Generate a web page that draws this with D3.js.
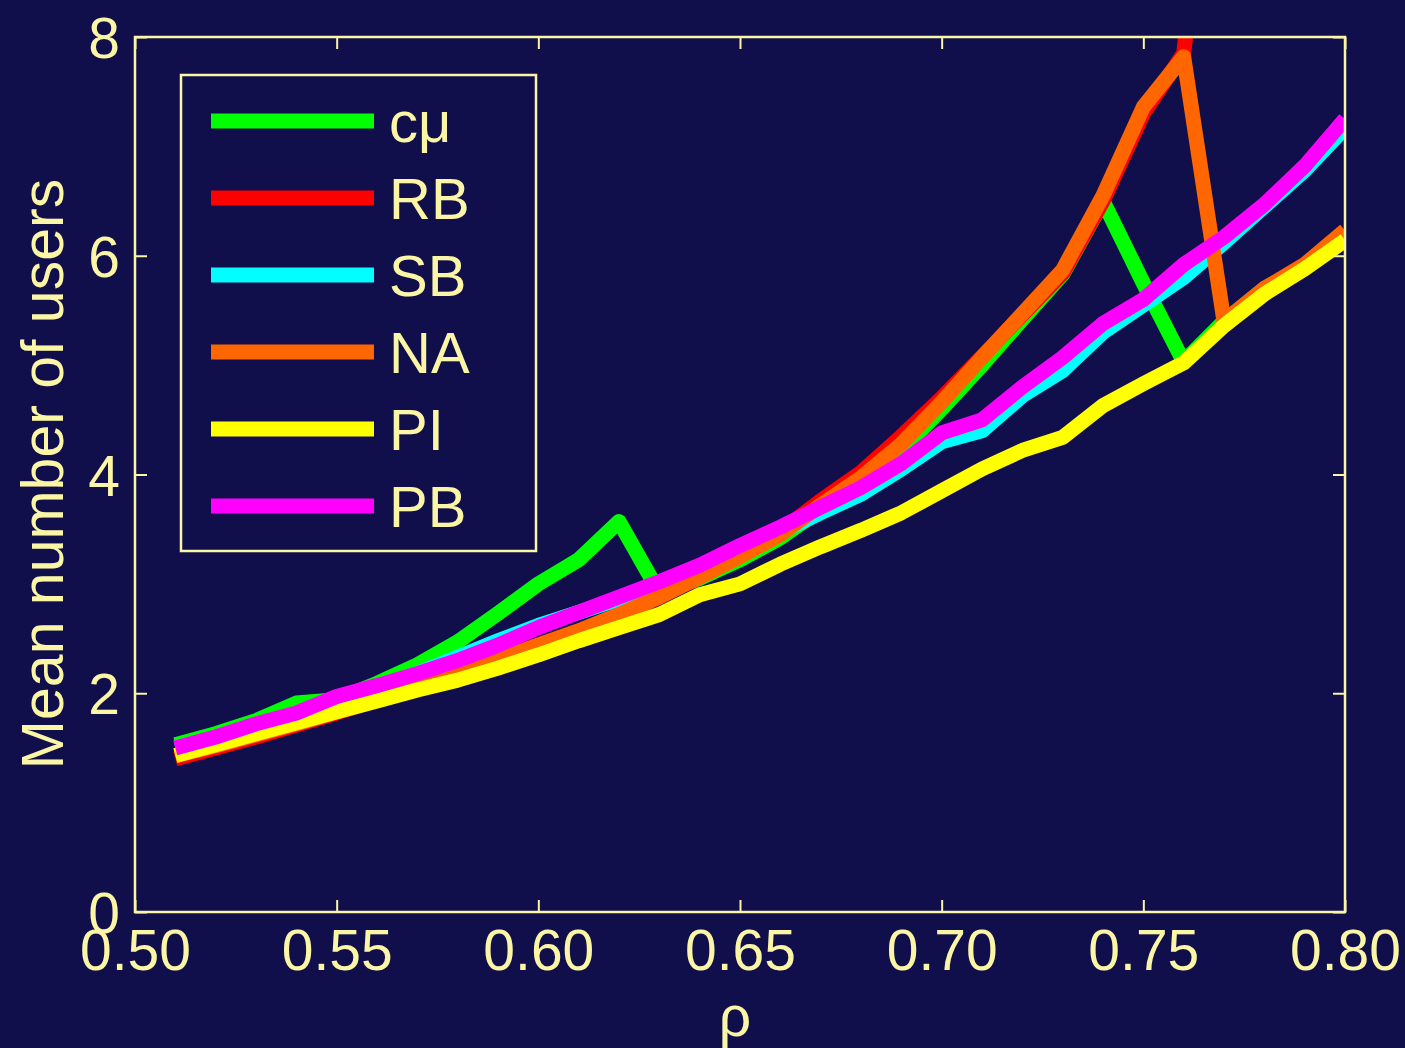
<!DOCTYPE html>
<html>
<head>
<meta charset="utf-8">
<script src="https://cdn.jsdelivr.net/npm/d3@7"></script>
<style>
  html, body { margin: 0; padding: 0; background: #110e4c; }
  svg { display: block; }
  text { font-family: "Liberation Sans", Arial, sans-serif; fill: #fbf6a6; }
</style>
</head>
<body>
<svg id="canvas" width="1405" height="1048"></svg>
<script>
// load values, x = rho
let rho = [0.51, 0.52, 0.53, 0.54, 0.55, 0.56, 0.57, 0.58, 0.59, 0.60,
           0.61, 0.62, 0.63, 0.64, 0.65, 0.66, 0.67, 0.68, 0.69, 0.70,
           0.71, 0.72, 0.73, 0.74, 0.75, 0.76, 0.77, 0.78, 0.79, 0.80]

let cmu = [1.53, 1.63, 1.75, 1.91, 1.94, 2.09, 2.26, 2.47, 2.73, 3.00,
           3.22, 3.57, 2.92, 3.05, 3.22, 3.42, 3.68, 3.92, 4.22, 4.60,
           5.00, 5.42, 5.83, 6.50, 5.75, 5.03, 5.40, 5.70, 5.90, 6.18]
// RB leaves the plot above 8 after 0.76
let rb  = [1.40, 1.50, 1.60, 1.71, 1.82, 1.94, 2.06, 2.18, 2.31, 2.44,
           2.57, 2.72, 2.88, 3.07, 3.27, 3.48, 3.76, 4.02, 4.35, 4.70,
           5.08, 5.46, 5.84, 6.50, 7.30, 7.85, 11.0]
let sb  = [1.50, 1.59, 1.69, 1.80, 1.92, 2.05, 2.18, 2.33, 2.48, 2.62,
           2.74, 2.86, 2.98, 3.12, 3.30, 3.47, 3.65, 3.82, 4.05, 4.30,
           4.40, 4.72, 4.95, 5.30, 5.55, 5.80, 6.12, 6.45, 6.78, 7.17]
let na  = [1.43, 1.52, 1.62, 1.72, 1.83, 1.95, 2.06, 2.18, 2.31, 2.44,
           2.57, 2.72, 2.88, 3.06, 3.25, 3.45, 3.72, 3.97, 4.28, 4.66,
           5.07, 5.47, 5.87, 6.55, 7.36, 7.82, 5.40, 5.70, 5.92, 6.23]
let pi  = [1.43, 1.53, 1.63, 1.73, 1.83, 1.93, 2.03, 2.12, 2.23, 2.35,
           2.48, 2.60, 2.72, 2.90, 3.00, 3.18, 3.34, 3.49, 3.65, 3.85,
           4.05, 4.22, 4.34, 4.63, 4.83, 5.02, 5.36, 5.65, 5.88, 6.14]
let pb  = [1.50, 1.60, 1.72, 1.82, 1.97, 2.07, 2.18, 2.30, 2.44, 2.60,
           2.74, 2.88, 3.02, 3.17, 3.35, 3.52, 3.70, 3.88, 4.10, 4.38,
           4.50, 4.80, 5.07, 5.38, 5.60, 5.92, 6.17, 6.47, 6.82, 7.25]

let seriesNames = ['c\u03bc', 'RB', 'SB', 'NA', 'PI', 'PB']
let seriesValues = [cmu, rb, sb, na, pi, pb]
let seriesColors = ['#00ff00', '#ff0000', '#00ffff', '#ff6600', '#ffff00', '#ff00ff']

let xTicks = [0.50, 0.55, 0.60, 0.65, 0.70, 0.75, 0.80]
let yTicks = [0, 2, 4, 6, 8]

let fg = '#fbf6a6'
let plotLeft = 135, plotRight = 1345, plotTop = 37, plotBottom = 912

let svg = d3.select('#canvas')

let xScale = d3.scaleLinear().domain([0.50, 0.80]).range([plotLeft, plotRight])
let yScale = d3.scaleLinear().domain([0, 8]).range([plotBottom, plotTop])

svg.append('defs').append('clipPath')
    .attr('id', 'plotclip')
    .append('rect')
    .attr('x', plotLeft).attr('y', plotTop)
    .attr('width', plotRight - plotLeft).attr('height', plotBottom - plotTop)

// lines
let line = d3.line()
    .x((d) => xScale(d[0]))
    .y((d) => yScale(d[1]))

let plot = svg.append('g').attr('clip-path', 'url(#plotclip)')

seriesValues.forEach((vals, i) => {
    let pts = vals.map((v, j) => [rho[j], v])
    plot.append('path')
        .attr('d', line(pts))
        .attr('fill', 'none')
        .attr('stroke', seriesColors[i])
        .attr('stroke-width', 15)
        .attr('stroke-linejoin', 'round')
})

// axes (box with inward ticks)
let tickLen = 12
let axisStyle = (g) => {
    g.select('.domain').remove()
    g.selectAll('line').attr('stroke', fg).attr('stroke-width', 2)
    g.selectAll('text')
        .style('font-size', '57px')
        .attr('fill', fg)
}

let xAxis = svg.append('g')
    .attr('transform', 'translate(0,' + plotBottom + ')')
    .call(d3.axisBottom(xScale).tickValues(xTicks).tickSize(-tickLen).tickPadding(18).tickFormat(d3.format('.2f')))
xAxis.call(axisStyle)
xAxis.selectAll('text').attr('dy', '0.71em')

let xAxisTop = svg.append('g')
    .attr('transform', 'translate(0,' + plotTop + ')')
    .call(d3.axisTop(xScale).tickValues(xTicks).tickSize(-tickLen).tickFormat(''))
xAxisTop.call(axisStyle)

let yAxis = svg.append('g')
    .attr('transform', 'translate(' + plotLeft + ',0)')
    .call(d3.axisLeft(yScale).tickValues(yTicks).tickSize(-tickLen).tickPadding(15))
yAxis.call(axisStyle)
yAxis.selectAll('text').attr('dy', '0.36em')

let yAxisRight = svg.append('g')
    .attr('transform', 'translate(' + plotRight + ',0)')
    .call(d3.axisRight(yScale).tickValues(yTicks).tickSize(-tickLen).tickFormat(''))
yAxisRight.call(axisStyle)

svg.append('rect')
    .attr('x', plotLeft).attr('y', plotTop)
    .attr('width', plotRight - plotLeft).attr('height', plotBottom - plotTop)
    .attr('fill', 'none')
    .attr('stroke', fg)
    .attr('stroke-width', 2.5)

// axis titles
svg.append('text')
    .attr('transform', 'translate(63,474) rotate(-90)')
    .attr('text-anchor', 'middle')
    .style('font-size', '59px')
    .text('Mean number of users')

svg.append('text')
    .attr('x', 735)
    .attr('y', 1036)
    .attr('text-anchor', 'middle')
    .style('font-size', '57px')
    .text('\u03c1')

// legend
let legend = svg.append('g')
legend.append('rect')
    .attr('x', 181).attr('y', 75)
    .attr('width', 355).attr('height', 476)
    .attr('fill', '#110e4c')
    .attr('stroke', fg)
    .attr('stroke-width', 2.5)

seriesNames.forEach((name, i) => {
    let yy = 121 + i * 77
    legend.append('line')
        .attr('x1', 211).attr('x2', 374)
        .attr('y1', yy).attr('y2', yy)
        .attr('stroke', seriesColors[i])
        .attr('stroke-width', 15)
    legend.append('text')
        .attr('x', 389)
        .attr('y', yy + 21)
        .style('font-size', '58px')
        .text(name)
})
</script>
</body>
</html>
